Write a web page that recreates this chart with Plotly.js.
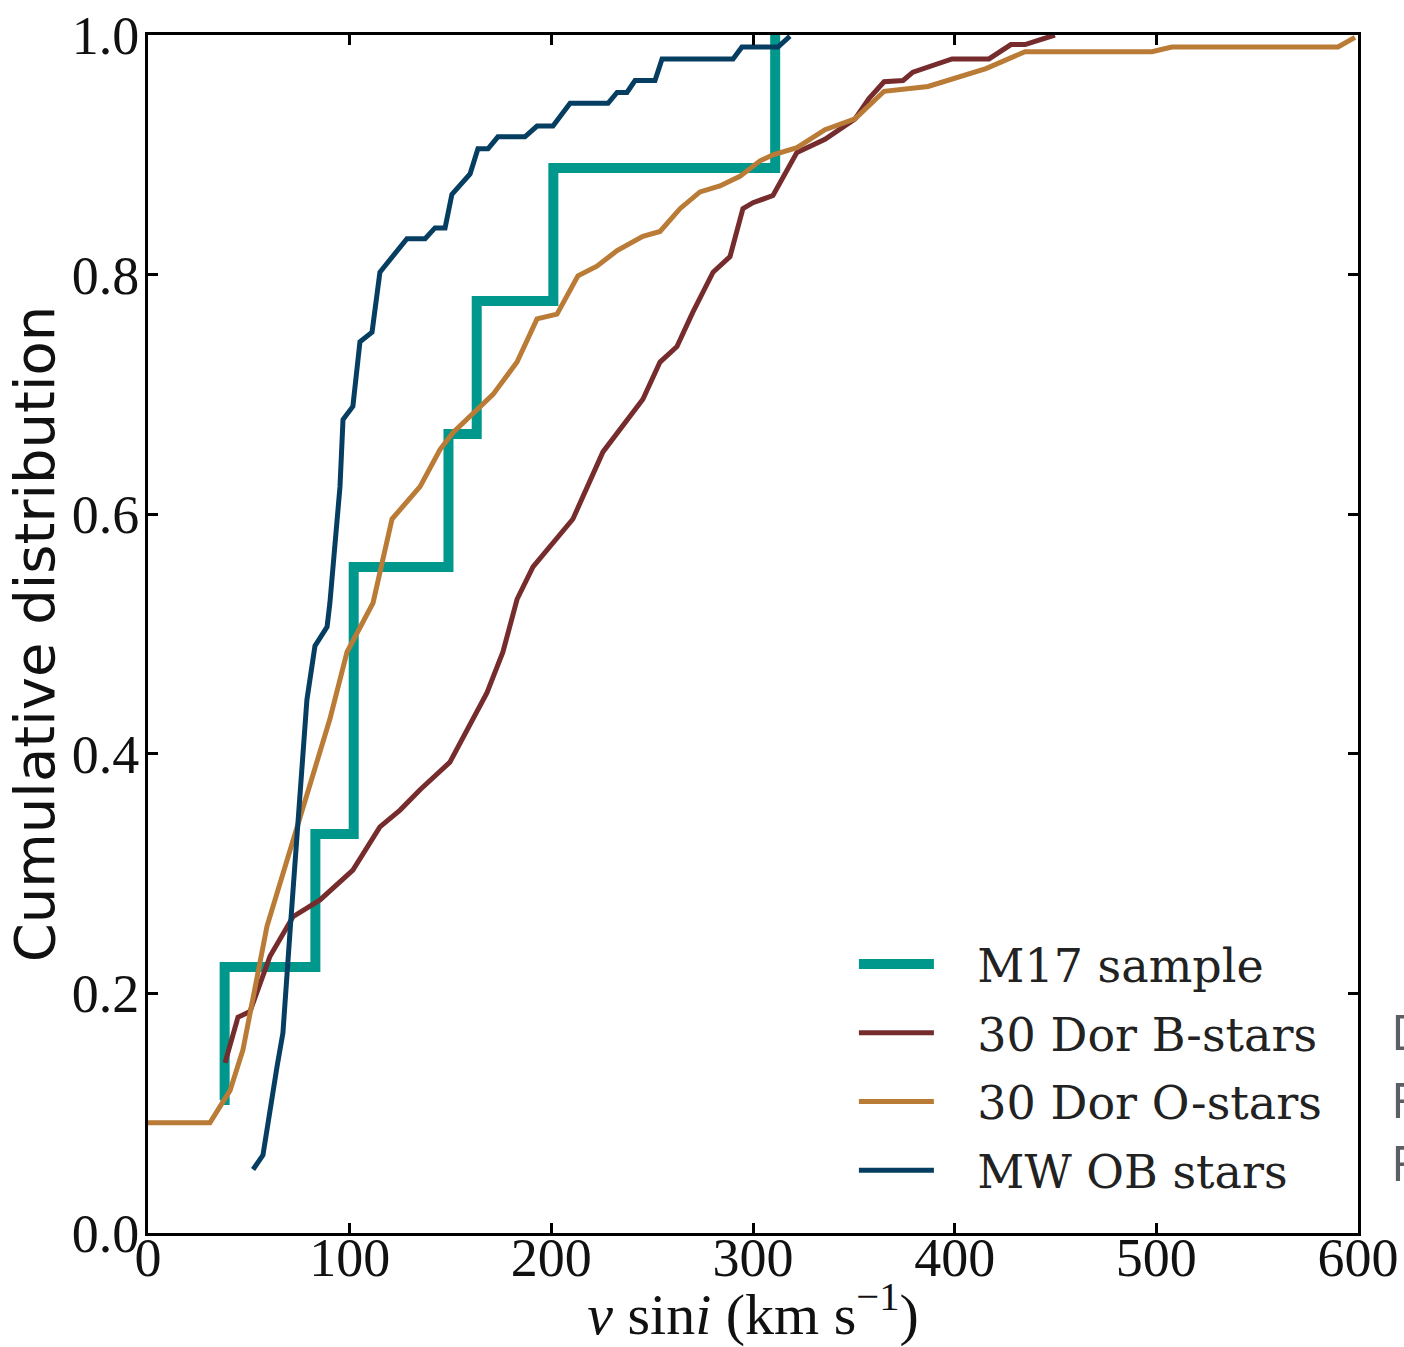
<!DOCTYPE html>
<html>
<head>
<meta charset="utf-8">
<script src="https://cdn.plot.ly/plotly-3.0.1.min.js"></script>
<style>
  html, body { margin: 0; padding: 0; background: #ffffff; }
  #chart { width: 1404px; height: 1347px; }
</style>
</head>
<body>
<div id="chart"></div>
<script>
// ---- Data ----
// M17 sample: cumulative step distribution
const m17_v   = [36, 38, 83, 102, 149, 163, 201, 311];
const m17_cdf = [0.111, 0.222, 0.333, 0.556, 0.667, 0.778, 0.889, 1.0];

// 30 Dor B-stars
const dorB_v   = [38.2, 44.6, 50.6, 60.5, 71.9, 85.3, 101.6, 115.0, 125.0, 134.9, 149.7, 158.2, 168.1, 176.0, 183.0, 190.9, 210.7, 225.6, 245.4, 253.9, 262.3, 270.0, 280.2, 288.6, 295.0, 300.0, 309.9, 321.8, 335.7, 350.6, 357.5, 365.0, 374.4, 379.3, 398.7, 417.0, 427.9, 434.9, 449.7];
const dorB_cdf = [0.142, 0.180, 0.185, 0.231, 0.264, 0.278, 0.303, 0.339, 0.353, 0.370, 0.393, 0.420, 0.451, 0.485, 0.529, 0.556, 0.596, 0.652, 0.696, 0.727, 0.740, 0.768, 0.802, 0.815, 0.855, 0.860, 0.866, 0.902, 0.913, 0.930, 0.947, 0.961, 0.962, 0.969, 0.980, 0.980, 0.992, 0.992, 1.0];

// 30 Dor O-stars
const dorO_v   = [0, 30.7, 40.7, 47.1, 59.0, 70.4, 80.3, 90.2, 98.7, 111.6, 121.0, 134.9, 144.8, 151.2, 171.1, 183.0, 192.9, 202.8, 213.2, 222.6, 232.6, 245.4, 253.9, 263.8, 273.7, 283.6, 293.5, 303.5, 309.9, 321.8, 335.7, 350.6, 365.0, 386.8, 415.5, 434.9, 497.8, 507.7, 590.1, 598.5];
const dorO_cdf = [0.092, 0.092, 0.119, 0.153, 0.256, 0.320, 0.376, 0.429, 0.485, 0.526, 0.596, 0.623, 0.654, 0.668, 0.700, 0.727, 0.763, 0.767, 0.799, 0.807, 0.820, 0.832, 0.836, 0.855, 0.869, 0.874, 0.882, 0.895, 0.900, 0.906, 0.921, 0.930, 0.953, 0.957, 0.972, 0.986, 0.986, 0.990, 0.990, 0.998];

// MW OB stars
const mw_v   = [52.1, 57.0, 64.0, 66.9, 70.4, 73.9, 78.8, 82.8, 88.8, 90.2, 95.2, 96.7, 101.6, 105.1, 111.1, 115.0, 128.4, 137.4, 142.3, 147.3, 150.7, 159.7, 163.6, 168.6, 173.5, 186.9, 192.9, 200.8, 209.3, 228.1, 232.6, 237.5, 241.5, 251.4, 254.9, 290.1, 294.5, 312.4, 318.3];
const mw_cdf = [0.053, 0.065, 0.139, 0.167, 0.251, 0.334, 0.445, 0.490, 0.506, 0.526, 0.623, 0.679, 0.690, 0.744, 0.752, 0.802, 0.830, 0.830, 0.839, 0.839, 0.867, 0.884, 0.905, 0.905, 0.915, 0.915, 0.924, 0.924, 0.943, 0.943, 0.952, 0.952, 0.962, 0.962, 0.980, 0.980, 0.990, 0.990, 0.999];

const seriesNames = ["M17 sample", "30 Dor B-stars", "30 Dor O-stars", "MW OB stars"];
const xTicks = [0, 100, 200, 300, 400, 500, 600];
const yTicks = [0.0, 0.2, 0.4, 0.6, 0.8, 1.0];
const sideLetters = ["D", "F", "F"];

// ---- Styles ----
const colors = ["#00978c", "#762c2c", "#b97b35", "#063e62"];
const widths = [10, 5, 5, 5];
const legendPad = "\u00a0\u00a0\u2009";

const traces = [
  { x: m17_v, y: m17_cdf, line: { shape: "hv" } },
  { x: dorB_v, y: dorB_cdf, line: {} },
  { x: dorO_v, y: dorO_cdf, line: {} },
  { x: mw_v, y: mw_cdf, line: {} }
].map((t, i) => ({
  type: "scatter",
  mode: "lines",
  x: t.x,
  y: t.y,
  name: legendPad + seriesNames[i],
  legendgroup: "g" + i,
  line: Object.assign({ color: colors[i], width: widths[i] }, t.line),
  hoverinfo: "x+y+name"
}));

const tickFont = { family: "Liberation Serif, DejaVu Serif, serif", size: 54, color: "#111" };

const layout = {
  width: 1404,
  height: 1347,
  paper_bgcolor: "#ffffff",
  plot_bgcolor: "#ffffff",
  margin: { l: 148, r: 46, t: 35, b: 114, pad: 0 },
  showlegend: true,
  legend: {
    x: 0.5834, xanchor: "left",
    y: 0.255, yanchor: "top",
    bgcolor: "rgba(0,0,0,0)",
    borderwidth: 0,
    itemwidth: 75,
    tracegroupgap: 6,
    font: { family: "DejaVu Serif, serif", size: 46, color: "#222" }
  },
  xaxis: {
    range: [0, 600],
    tickvals: xTicks,
    ticktext: xTicks.map(String),
    ticks: "inside",
    ticklen: 10,
    tickwidth: 3,
    tickcolor: "#000",
    showline: true,
    linecolor: "#000",
    linewidth: 3,
    mirror: "ticks",
    showgrid: false,
    zeroline: false,
    tickfont: tickFont,
    ticklabelstandoff: -25,
    title: {
      text: "<i>v</i> sin<i>i</i> (km s<sup>−1</sup>)",
      font: { family: "Liberation Serif, serif", size: 58, color: "#111" },
      standoff: 10
    },
    automargin: false
  },
  yaxis: {
    range: [0, 1.0],
    tickvals: yTicks,
    ticktext: yTicks.map(v => v.toFixed(1)),
    ticks: "inside",
    ticklen: 10,
    tickwidth: 3,
    tickcolor: "#000",
    showline: true,
    linecolor: "#000",
    linewidth: 3,
    mirror: "ticks",
    showgrid: false,
    zeroline: false,
    tickfont: tickFont,
    ticklabelstandoff: -5,
    title: {
      text: "Cumulative distribution",
      font: { family: "DejaVu Sans, sans-serif", size: 56, color: "#111" },
      standoff: 0
    },
    automargin: false
  },
  annotations: sideLetters.map((s, i) => ({
    xref: "paper", yref: "paper",
    x: 1.026, y: [0.169, 0.112, 0.059][i],
    xanchor: "left", yanchor: "middle",
    text: s, showarrow: false,
    font: { family: "Open Sans, sans-serif", size: 50, color: "#5a5f66" }
  }))
};

Plotly.newPlot("chart", traces, layout, { staticPlot: true });
</script>
</body>
</html>
